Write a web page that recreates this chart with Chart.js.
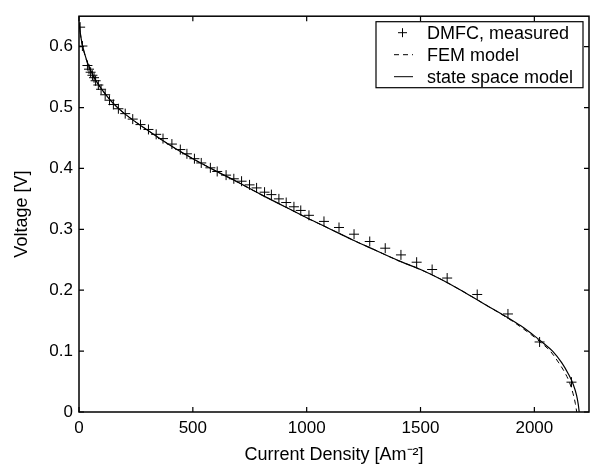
<!DOCTYPE html>
<html>
<head>
<meta charset="utf-8">
<script src="https://cdn.jsdelivr.net/npm/chart.js@4.4.0/dist/chart.umd.min.js"></script>
<style>
    html, body { margin: 0; padding: 0; background: #fff; }
    #fuel-cell-wrap { width: 595px; height: 466px; }
</style>
</head>
<body>
<div id="fuel-cell-wrap"><canvas id="fuel-cell-polarization" width="595" height="466"></canvas></div>
<script>
// measured polarization curve (crosses)
var measuredCurrent = [5, 15, 37, 44, 51, 59, 66, 73, 85, 97, 115, 134, 151, 173, 203, 236, 270, 305, 339, 369,
    408, 445, 474, 507, 537, 577, 607, 646, 680, 714, 749, 780, 815, 845, 878, 910, 944, 974, 1010, 1076,
    1142, 1208, 1277, 1345, 1414, 1483, 1551, 1617, 1749, 1884, 2023, 2163];
var measuredVoltage = [0.632, 0.601, 0.569, 0.563, 0.558, 0.553, 0.549, 0.544, 0.537, 0.530, 0.521, 0.512, 0.505, 0.498, 0.490, 0.481, 0.472, 0.464, 0.456, 0.449,
    0.440, 0.431, 0.424, 0.416, 0.409, 0.401, 0.395, 0.389, 0.383, 0.379, 0.373, 0.368, 0.361, 0.357, 0.350, 0.344, 0.337, 0.331, 0.323, 0.313,
    0.303, 0.292, 0.280, 0.269, 0.258, 0.246, 0.234, 0.220, 0.193, 0.161, 0.115, 0.049];

// FEM model (dashed)
var femCurrent = [0, 5, 10, 20, 30, 40, 60, 80, 100, 150, 200, 300, 400, 500, 600, 700, 800, 900, 1000, 1100,
    1200, 1300, 1400, 1500, 1600, 1700, 1800, 1900, 1950, 2000, 2035, 2070, 2105, 2135, 2155, 2170, 2180, 2186];
var femVoltage = [0.638, 0.624, 0.611, 0.594, 0.581, 0.570, 0.554, 0.541, 0.530, 0.507, 0.490, 0.463, 0.438, 0.416, 0.396, 0.377, 0.357, 0.338, 0.319, 0.301,
    0.283, 0.266, 0.249, 0.234, 0.216, 0.195, 0.173, 0.150, 0.137, 0.123, 0.112, 0.100, 0.082, 0.064, 0.048, 0.030, 0.014, 0];

// state space model (solid)
var stateSpaceCurrent = [0, 5, 10, 20, 30, 40, 60, 80, 100, 150, 200, 300, 400, 500, 600, 700, 800, 900, 1000, 1100,
    1200, 1300, 1400, 1500, 1600, 1700, 1800, 1900, 1950, 2000, 2040, 2080, 2120, 2150, 2170, 2185, 2193, 2197];
var stateSpaceVoltage = [0.640, 0.625, 0.612, 0.595, 0.582, 0.571, 0.554, 0.541, 0.530, 0.507, 0.490, 0.463, 0.438, 0.416, 0.396, 0.377, 0.357, 0.338, 0.319, 0.301,
    0.283, 0.266, 0.249, 0.234, 0.216, 0.195, 0.173, 0.151, 0.139, 0.125, 0.113, 0.100, 0.081, 0.062, 0.046, 0.028, 0.012, 0];

var seriesLabels = ['DMFC, measured', 'FEM model', 'state space model'];
var xTickValues = [0, 500, 1000, 1500, 2000];
var yTickValues = [0, 0.1, 0.2, 0.3, 0.4, 0.5, 0.6];
var xRange = [0, 2240];
var yRange = [0, 0.65];
var xTitle = 'Current Density [Am\u207B\u00B2]';
var yTitle = 'Voltage [V]';

var FONT = 'Liberation Sans, Arial, Helvetica, sans-serif';

function toPoints(xs, ys) {
    return xs.map(function (x, i) {
        return { x: x, y: ys[i] };
    });
}

// MATLAB-ish box, inward ticks and the boxed legend
var matlabBox = {
    id: 'matlabBox',
    afterDatasetsDraw: function (chart) {
        var ctx = chart.ctx;
        var area = chart.chartArea;
        var xs = chart.scales.x;
        var ys = chart.scales.y;
        var tick = 5;

        ctx.save();
        ctx.strokeStyle = '#000';
        ctx.lineWidth = 1.5;
        ctx.strokeRect(area.left, area.top, area.right - area.left, area.bottom - area.top);

        ctx.lineWidth = 1.2;
        ctx.beginPath();
        xs.ticks.forEach(function (t) {
            var px = xs.getPixelForValue(t.value);
            ctx.moveTo(px, area.bottom);
            ctx.lineTo(px, area.bottom - tick);
            ctx.moveTo(px, area.top);
            ctx.lineTo(px, area.top + tick);
        });
        ys.ticks.forEach(function (t) {
            var py = ys.getPixelForValue(t.value);
            ctx.moveTo(area.left, py);
            ctx.lineTo(area.left + tick, py);
            ctx.moveTo(area.right, py);
            ctx.lineTo(area.right - tick, py);
        });
        ctx.stroke();

        // legend
        var boxRight = area.right - 6;
        var boxLeft = boxRight - 207;
        var boxTop = area.top + 5.5;
        var rowH = 22;
        var boxBottom = boxTop + rowH * 3;
        ctx.fillStyle = '#fff';
        ctx.fillRect(boxLeft, boxTop, boxRight - boxLeft, boxBottom - boxTop);
        ctx.lineWidth = 1.2;
        ctx.strokeRect(boxLeft, boxTop, boxRight - boxLeft, boxBottom - boxTop);

        ctx.font = '18px ' + FONT;
        ctx.fillStyle = '#000';
        ctx.textBaseline = 'middle';
        ctx.textAlign = 'left';
        var sampleL = boxLeft + 18;
        var sampleR = boxLeft + 37;
        chart.data.datasets.forEach(function (ds, i) {
            var cy = boxTop + rowH * (i + 0.5);
            ctx.beginPath();
            ctx.lineWidth = 1;
            if (i === 0) {
                var cx = (sampleL + sampleR) / 2 - 1;
                ctx.moveTo(cx - 4.5, cy);
                ctx.lineTo(cx + 4.5, cy);
                ctx.moveTo(cx, cy - 4.5);
                ctx.lineTo(cx, cy + 4.5);
                ctx.setLineDash([]);
            } else {
                ctx.setLineDash(ds.borderDash || []);
                ctx.moveTo(sampleL, cy);
                ctx.lineTo(sampleR, cy);
            }
            ctx.stroke();
            ctx.setLineDash([]);
            ctx.fillText(ds.label, boxLeft + 51, cy + 1);
        });
        ctx.restore();
    }
};

var ctx = document.getElementById('fuel-cell-polarization').getContext('2d');
var polarizationChart = new Chart(ctx, {
    type: 'scatter',
    data: {
        datasets: [
            {
                label: seriesLabels[0],
                data: toPoints(measuredCurrent, measuredVoltage),
                showLine: false,
                pointStyle: 'cross',
                pointRadius: 5,
                pointBorderWidth: 1,
                borderColor: '#000',
                backgroundColor: '#000',
                order: 0
            },
            {
                label: seriesLabels[1],
                data: toPoints(femCurrent, femVoltage),
                showLine: true,
                pointRadius: 0,
                borderColor: '#000',
                borderWidth: 1,
                borderDash: [5, 4],
                cubicInterpolationMode: 'monotone',
                order: 1
            },
            {
                label: seriesLabels[2],
                data: toPoints(stateSpaceCurrent, stateSpaceVoltage),
                showLine: true,
                pointRadius: 0,
                borderColor: '#000',
                borderWidth: 1.2,
                cubicInterpolationMode: 'monotone',
                order: 2
            }
        ]
    },
    options: {
        responsive: false,
        animation: false,
        devicePixelRatio: 1,
        layout: { padding: { top: 8, right: 6, left: 0, bottom: 0 } },
        plugins: {
            legend: { display: false },
            tooltip: { enabled: false }
        },
        scales: {
            x: {
                type: 'linear',
                min: xRange[0],
                max: xRange[1],
                afterBuildTicks: function (scale) {
                    scale.ticks = xTickValues.map(function (v) { return { value: v }; });
                },
                afterFit: function (scale) { scale.height = 54; },
                grid: { display: false, drawTicks: false },
                border: { display: false },
                ticks: {
                    color: '#000',
                    font: { family: FONT, size: 17 },
                    padding: 6,
                    maxRotation: 0,
                    autoSkip: false,
                    callback: function (v) { return String(v); }
                },
                title: {
                    display: true,
                    text: xTitle,
                    color: '#000',
                    font: { family: FONT, size: 18 },
                    padding: { top: 0, bottom: 0 }
                }
            },
            y: {
                type: 'linear',
                min: yRange[0],
                max: yRange[1],
                afterBuildTicks: function (scale) {
                    scale.ticks = yTickValues.map(function (v) { return { value: v }; });
                },
                afterFit: function (scale) { scale.width = 79; },
                grid: { display: false, drawTicks: false },
                border: { display: false },
                ticks: {
                    color: '#000',
                    font: { family: FONT, size: 17 },
                    padding: 6,
                    autoSkip: false,
                    callback: function (v) { return v === 0 ? '0' : v.toFixed(1); }
                },
                title: {
                    display: true,
                    text: yTitle,
                    color: '#000',
                    font: { family: FONT, size: 18 },
                    padding: { top: 11, bottom: 0 }
                }
            }
        }
    },
    plugins: [matlabBox]
});
</script>
</body>
</html>
